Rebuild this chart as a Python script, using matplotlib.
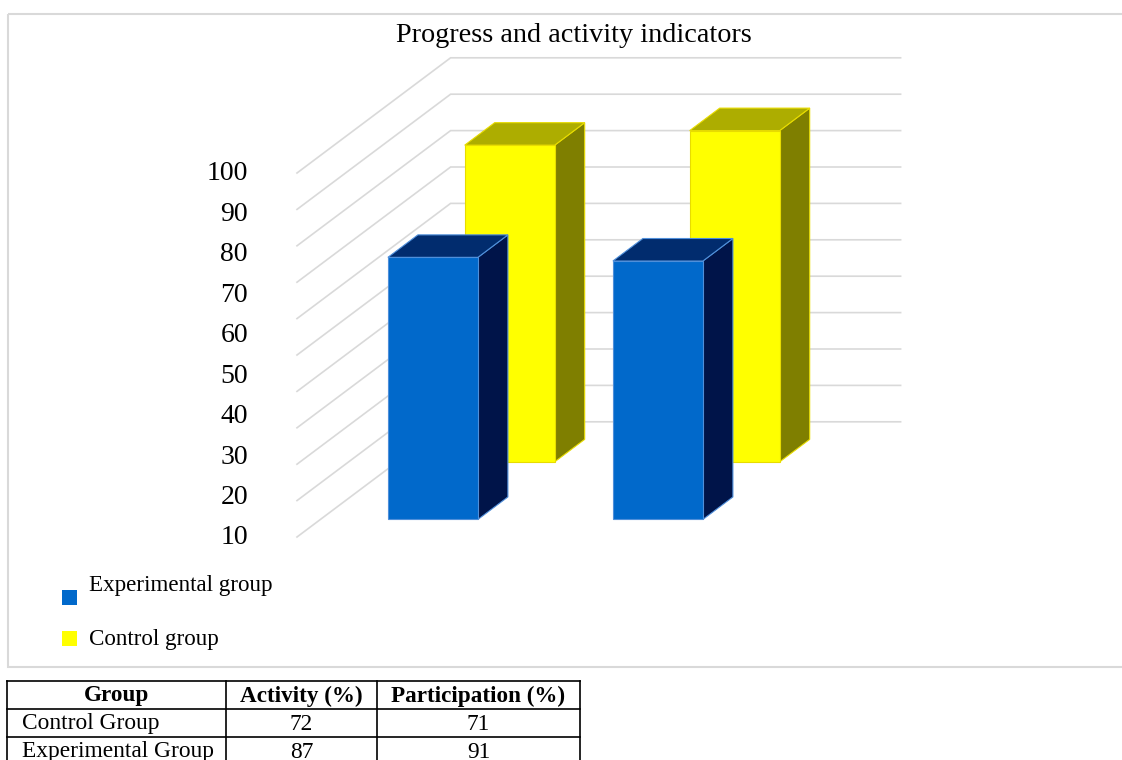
"""
Pseudo-3D clustered column chart (Excel style) with the data table underneath.
"""

import numpy as np
import matplotlib
matplotlib.use('Agg')
import matplotlib.pyplot as plt
from matplotlib.patches import Polygon, Rectangle

# ── Data ───────────────────────────────────────────────────────────────────────
title = "Progress and activity indicators"
groups = ["Control Group", "Experimental Group"]
activity = [72, 87]
participation = [71, 91]
table_header = ["Group", "Activity (%)", "Participation (%)"]

# bars as drawn: front row = first group, back row = second group
front_values = [activity[0], participation[0]]
back_values = [activity[1], participation[1]]
legend_labels = ["Experimental group", "Control group"]
axis_labels = [100, 90, 80, 70, 60, 50, 40, 30, 20, 10]
grid_values = np.arange(0, 101, 10)

# ── Style ──────────────────────────────────────────────────────────────────────
SERIF = ['Liberation Serif', 'DejaVu Serif']
BLUE = dict(front='#0169CB', top='#012C6E', side='#001449', edge='#4F8FDA')
YELLOW = dict(front='#FFFF00', top='#ADAD00', side='#7F7F00', edge='#E8DC00')
GRID = '#D9D9D9'

# oblique projection, in pixel units of the output image
X0, Y0 = 297.0, 537.0          # front-left corner of floor, value 0
PX_PER_UNIT = 3.64
DEPTH = 192.0                  # floor depth
FLOOR_W = 450.0
DX, DY = 0.8, -0.6             # depth direction on screen


def proj(x, d, v):
    return X0 + x + DX * d, Y0 + DY * d - v * PX_PER_UNIT


def draw_bar(ax, xc, width, dc, depth, value, colors, z):
    x0, x1 = xc - width / 2, xc + width / 2
    d0, d1 = dc - depth / 2, dc + depth / 2
    faces = [
        ([(x1, d0, 0), (x1, d1, 0), (x1, d1, value), (x1, d0, value)], colors['side']),
        ([(x0, d0, value), (x1, d0, value), (x1, d1, value), (x0, d1, value)], colors['top']),
        ([(x0, d0, 0), (x1, d0, 0), (x1, d0, value), (x0, d0, value)], colors['front']),
    ]
    for pts, fc in faces:
        poly = Polygon([proj(*p) for p in pts], closed=True, facecolor=fc,
                       edgecolor=colors['edge'], linewidth=0.8, joinstyle='miter', zorder=z)
        ax.add_patch(poly)


fig = plt.figure(figsize=(11.22, 7.6), dpi=100)
ax = fig.add_axes([0, 0, 1, 1])
ax.set_xlim(0, 1122)
ax.set_ylim(760, 0)
ax.axis('off')

# chart area border
ax.add_patch(Rectangle((8.5, 14), 1130, 653, fill=False, edgecolor=GRID, linewidth=1.5, zorder=0))

ax.text(574, 35, title, ha='center', va='center', fontsize=20.3, family=SERIF)

# gridlines: back wall + left wall
for v in grid_values:
    xa, ya = proj(0, 0, v)
    xb, yb = proj(0, DEPTH, v)
    xc, yc = proj(FLOOR_W, DEPTH, v)
    ax.plot([xa, xb, xc], [ya, yb, yc], color=GRID, linewidth=1.2, zorder=1,
            solid_joinstyle='miter')

# value labels spread along the front edge of the left wall
label_y = np.linspace(proj(0, 0, grid_values[-1])[1], proj(0, 0, grid_values[0])[1], len(axis_labels))
for lab, y in zip(axis_labels, label_y):
    ax.text(248, y + 1, str(lab), ha='right', va='center', fontsize=20, family=SERIF)

# bars
n_cat = len(front_values)
cat_w = FLOOR_W / n_cat
bar_w = cat_w * 0.4
row_d = DEPTH / 2
bar_d = 37.5
for i in range(n_cat):
    xc = (i + 0.5) * cat_w
    draw_bar(ax, xc, bar_w, row_d * 1.5, bar_d, back_values[i], YELLOW, 2 + i * 0.1)
for i in range(n_cat):
    xc = (i + 0.5) * cat_w
    draw_bar(ax, xc, bar_w, row_d * 0.5, bar_d, front_values[i], BLUE, 3 + i * 0.1)

# legend
for (sq_y, txt_y), lab, c in zip([(590, 585), (631, 640)], legend_labels,
                                 [BLUE['front'], YELLOW['front']]):
    ax.add_patch(Rectangle((62, sq_y), 15, 15, facecolor=c, edgecolor='none', zorder=2))
    ax.text(89, txt_y, lab, ha='left', va='center', fontsize=16.6, family=SERIF)

# data table
col_x = [7, 226, 377, 580]
row_y = [681, 709, 737, 765]
for x in col_x:
    ax.plot([x, x], [row_y[0], row_y[-1]], color='black', linewidth=1.2, zorder=4)
for y in row_y:
    ax.plot([col_x[0], col_x[-1]], [y, y], color='black', linewidth=1.2, zorder=4)

for j, h in enumerate(table_header):
    ax.text((col_x[j] + col_x[j + 1]) / 2, (row_y[0] + row_y[1]) / 2 + 1, h,
            ha='center', va='center', fontsize=16.7, fontweight='bold', family=SERIF)
for r, (g, a, p) in enumerate(zip(groups, activity, participation)):
    yc = (row_y[r + 1] + row_y[r + 2]) / 2 + 1
    ax.text(22, yc, g, ha='left', va='center', fontsize=16.8, family=SERIF)
    ax.text((col_x[1] + col_x[2]) / 2, yc, str(a), ha='center', va='center', fontsize=16.8, family=SERIF)
    ax.text((col_x[2] + col_x[3]) / 2, yc, str(p), ha='center', va='center', fontsize=16.8, family=SERIF)

fig.savefig('out.png', dpi=100)
